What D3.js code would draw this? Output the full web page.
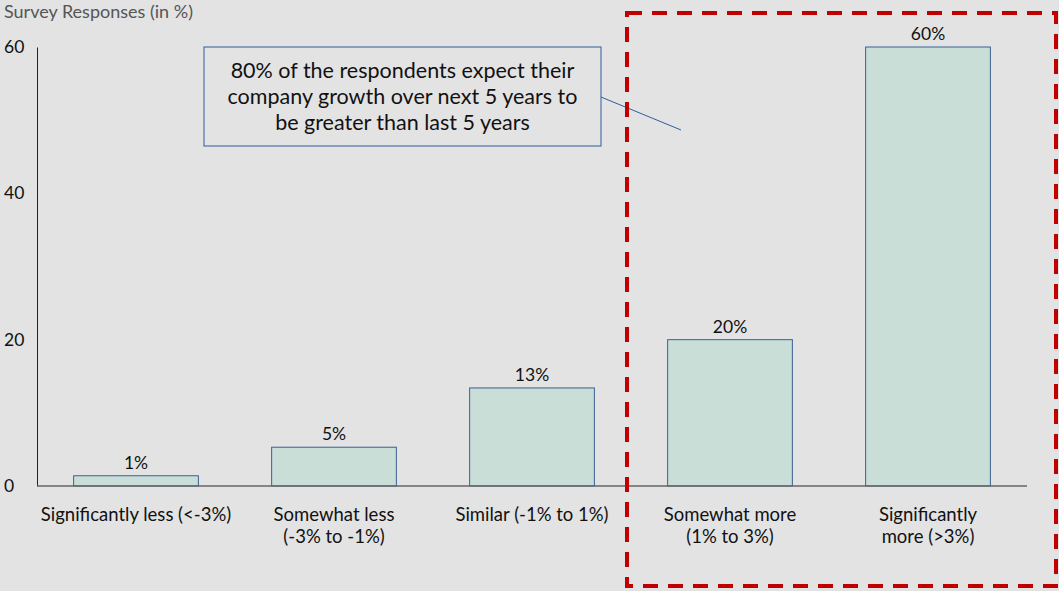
<!DOCTYPE html>
<html>
<head>
<meta charset="utf-8">
<script src="https://cdn.jsdelivr.net/npm/d3@7"></script>
<style>
  body { margin: 0; background: #e3e3e3; }
  svg { display: block; font-family: Lato, "Open Sans", sans-serif; }
</style>
</head>
<body>
<div id="chart"></div>
<script>
// chart data
var categories = [
    ["Significantly less (<-3%)"],
    ["Somewhat less", "(-3% to -1%)"],
    ["Similar (-1% to 1%)"],
    ["Somewhat more", "(1% to 3%)"],
    ["Significantly", "more (>3%)"]
];
var values = [1.4, 5.3, 13.4, 20, 60];
var valueLabels = ["1%", "5%", "13%", "20%", "60%"];
var yTicks = [0, 20, 40, 60];
var noteLines = [
    "80% of the respondents expect their",
    "company growth over next 5 years to",
    "be greater than last 5 years"
];

var width = 1059, height = 591;
var margin = {top: 47, right: 32, bottom: 105, left: 37};
var w = width - margin.left - margin.right,
    h = height - margin.top - margin.bottom;

var svg = d3.select("#chart").append("svg")
    .attr("width", width)
    .attr("height", height);

svg.append("rect")
    .attr("width", width).attr("height", height)
    .attr("fill", "#e3e3e3");

svg.append("text")
    .attr("x", 4).attr("y", 18)
    .attr("fill", "#555")
    .style("font-size", "18px")
    .text("Survey Responses (in %)");

var g = svg.append("g")
    .attr("transform", "translate(" + margin.left + "," + margin.top + ")");

var x = d3.scaleBand()
    .domain(d3.range(categories.length))
    .range([0, w])
    .paddingInner(0.37)
    .paddingOuter(0.185);

var y = d3.scaleLinear()
    .domain([0, 60])
    .range([h, 0]);

// y axis
var yAxis = d3.axisLeft(y).tickValues(yTicks).tickSize(0).tickPadding(14);
var yAxisGroup = g.append("g").call(yAxis);
yAxisGroup.select(".domain").attr("stroke", "#222").attr("stroke-width", 1);
yAxisGroup.selectAll("text")
    .attr("fill", "#111")
    .attr("text-anchor", "start")
    .attr("x", -33)
    .style("font-size", "17.5px")
    .style("font-family", "Lato, 'Open Sans', sans-serif");

// bars
g.selectAll(".bar")
    .data(values)
    .enter().append("rect")
    .attr("class", "bar")
    .attr("x", function(d, i) { return x(i); })
    .attr("y", function(d) { return y(d); })
    .attr("width", x.bandwidth())
    .attr("height", function(d) { return h - y(d); })
    .attr("fill", "#c8ded7")
    .attr("stroke", "#3b6096")
    .attr("stroke-width", 1);

// baseline
g.append("line")
    .attr("x1", 0).attr("x2", w)
    .attr("y1", y(0)).attr("y2", y(0))
    .attr("stroke", "#666").attr("stroke-width", 1.5);

// value labels
g.selectAll(".val")
    .data(values)
    .enter().append("text")
    .attr("class", "val")
    .attr("x", function(d, i) { return x(i) + x.bandwidth() / 2; })
    .attr("y", function(d) { return y(d) - 7; })
    .attr("text-anchor", "middle")
    .attr("fill", "#111")
    .style("font-size", "17.5px")
    .text(function(d, i) { return valueLabels[i]; });

// category labels
var cat = g.selectAll(".cat")
    .data(categories)
    .enter().append("text")
    .attr("class", "cat")
    .attr("text-anchor", "middle")
    .attr("fill", "#111")
    .style("font-size", "18.5px")
    .attr("transform", function(d, i) { return "translate(" + (x(i) + x.bandwidth() / 2) + "," + (h + 35) + ")"; });
cat.selectAll("tspan")
    .data(function(d) { return d; })
    .enter().append("tspan")
    .attr("x", 0)
    .attr("dy", function(d, i) { return i === 0 ? 0 : 22; })
    .text(function(d) { return d; });

// annotation box and leader line
var note = svg.append("g");
note.append("line")
    .attr("x1", 601).attr("y1", 97)
    .attr("x2", 681).attr("y2", 130)
    .attr("stroke", "#2f5e9a").attr("stroke-width", 1);
note.append("rect")
    .attr("x", 204).attr("y", 47)
    .attr("width", 397).attr("height", 99)
    .attr("fill", "#e3e3e3")
    .attr("stroke", "#2f5e9a").attr("stroke-width", 1);
note.selectAll("text")
    .data(noteLines)
    .enter().append("text")
    .attr("x", 402.5)
    .attr("y", function(d, i) { return 78 + i * 26; })
    .attr("text-anchor", "middle")
    .attr("fill", "#111")
    .style("font-size", "21.5px")
    .text(function(d) { return d; });

// highlight box around the "more" categories
svg.append("rect")
    .attr("x", 627).attr("y", 13)
    .attr("width", 429).attr("height", 573)
    .attr("fill", "none")
    .attr("stroke", "#c00000")
    .attr("stroke-width", 4)
    .attr("stroke-dasharray", "15,10");
</script>
</body>
</html>
